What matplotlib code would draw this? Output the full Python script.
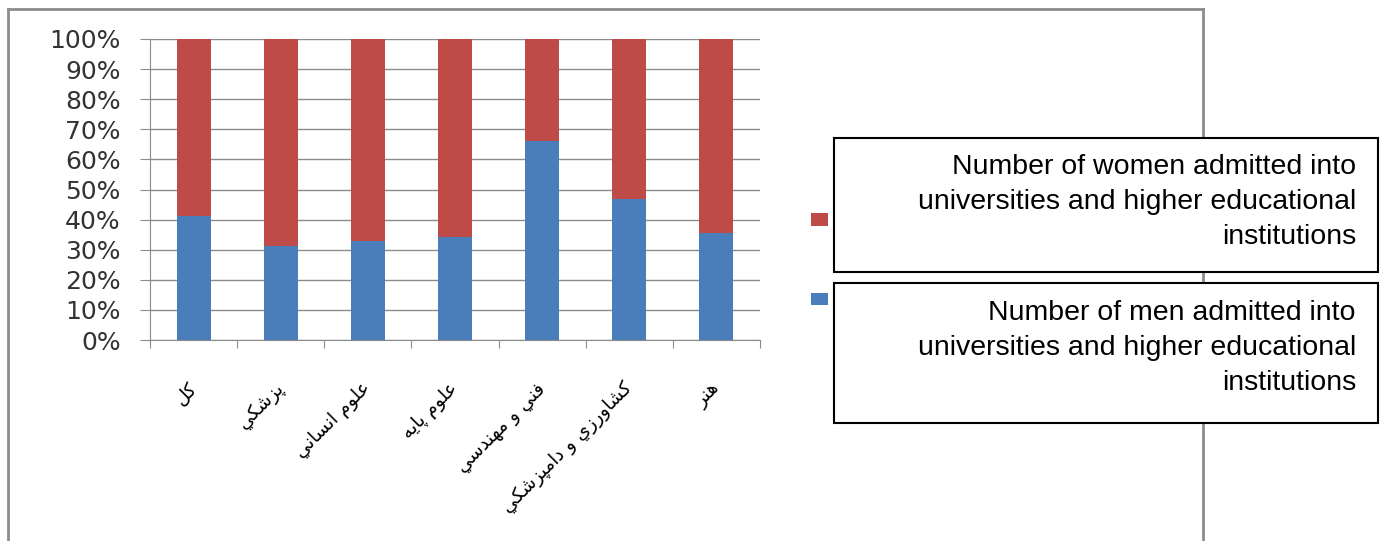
import matplotlib.pyplot as plt
from matplotlib.patches import Rectangle
from matplotlib.lines import Line2D

# category labels (Persian) and shares in percent
fields = ['کل', 'پزشکي', 'علوم انساني', 'علوم پايه', 'فني و مهندسي',
          'کشاورزي و دامپزشکي', 'هنر']
men = [41.2, 31.3, 33.0, 34.3, 66.1, 46.7, 35.6]
women = [58.8, 68.7, 67.0, 65.7, 33.9, 53.3, 64.4]
yticks = [0, 10, 20, 30, 40, 50, 60, 70, 80, 90, 100]

women_txt = 'Number of women admitted into\nuniversities and higher educational\ninstitutions'
men_txt = 'Number of men admitted into\nuniversities and higher educational\ninstitutions'

blue = '#4a7ebb'
red = '#be4b48'
grey = '#8c8c8c'

# matplotlib has no arabic shaping, so pick presentation forms by hand
FORMS = {
    'ا': ('\uFE8D', '\uFE8E'),
    'د': ('\uFEA9', '\uFEAA'),
    'ر': ('\uFEAD', '\uFEAE'),
    'ز': ('\uFEAF', '\uFEB0'),
    'و': ('\uFEED', '\uFEEE'),
    'س': ('\uFEB1', '\uFEB2', '\uFEB3', '\uFEB4'),
    'ش': ('\uFEB5', '\uFEB6', '\uFEB7', '\uFEB8'),
    'ع': ('\uFEC9', '\uFECA', '\uFECB', '\uFECC'),
    'ف': ('\uFED1', '\uFED2', '\uFED3', '\uFED4'),
    'ل': ('\uFEDD', '\uFEDE', '\uFEDF', '\uFEE0'),
    'م': ('\uFEE1', '\uFEE2', '\uFEE3', '\uFEE4'),
    'ن': ('\uFEE5', '\uFEE6', '\uFEE7', '\uFEE8'),
    'ه': ('\uFEE9', '\uFEEA', '\uFEEB', '\uFEEC'),
    'ي': ('\uFEF1', '\uFEF2', '\uFEF3', '\uFEF4'),
    'پ': ('\uFB56', '\uFB57', '\uFB58', '\uFB59'),
    'ک': ('\uFB8E', '\uFB8F', '\uFB90', '\uFB91'),
}


def shape(word):
    out = []
    for k, ch in enumerate(word):
        f = FORMS.get(ch)
        if f is None:
            out.append(ch)
            continue
        prev = word[k-1] if k > 0 else ''
        nxt = word[k+1] if k+1 < len(word) else ''
        jp = prev in FORMS and len(FORMS[prev]) == 4
        jn = len(f) == 4 and nxt in FORMS
        if jp and jn:
            out.append(f[3])
        elif jn:
            out.append(f[2])
        elif jp:
            out.append(f[1])
        else:
            out.append(f[0])
    return ''.join(out)[::-1]


W, H = 1383, 541


def fx(x):
    return x / W


def fy(y):
    return 1 - y / H


fig = plt.figure(figsize=(W/100, H/100), dpi=100)
ax = fig.add_axes([fx(150), fy(340), 610/W, 301/H])

x = list(range(len(fields)))
b1 = ax.bar(x, men, width=0.39, color=blue, zorder=2)
b2 = ax.bar(x, women, bottom=men, width=0.39, color=red, zorder=2)

ax.set_xlim(-0.5, len(fields) - 0.5)
ax.set_ylim(0, 100)
ax.set_yticks(yticks)
ax.set_yticklabels([f'{v}%' for v in yticks], fontsize=18, color='#333333')
ax.yaxis.grid(True, color=grey, lw=1)
ax.set_axisbelow(True)
ax.tick_params(axis='y', length=7.2, color=grey, pad=14)
ax.set_xticks([i - 0.5 for i in range(len(fields) + 1)])
ax.set_xticklabels([])
ax.tick_params(axis='x', length=6, color=grey)
for s in ['top', 'right']:
    ax.spines[s].set_visible(False)
for s in ['left', 'bottom']:
    ax.spines[s].set_color(grey)

# rotated persian category labels, top corner under each bar
for i, lab in enumerate(fields):
    ax.annotate(shape(lab), xy=(i, 0), xycoords='data',
                xytext=(-6 * 0.72, -39 * 0.72), textcoords='offset points',
                rotation=45, ha='right', va='top', rotation_mode='anchor',
                fontsize=13.5, family=['DejaVu Sans'], color='black')

leg = fig.legend([b2, b1], ['', ''], loc='upper left',
                 bbox_to_anchor=(fx(811), fy(211)), frameon=False,
                 handlelength=1.0, handleheight=0.8, labelspacing=3.7,
                 borderpad=0, borderaxespad=0, fontsize=12)

# outer chart frame
fig.add_artist(Line2D([fx(8), fx(1203)], [fy(9), fy(9)], color=grey, lw=2))
fig.add_artist(Line2D([fx(8), fx(8)], [fy(9), 0], color=grey, lw=2))
fig.add_artist(Line2D([fx(1203), fx(1203)], [fy(9), 0], color=grey, lw=2))

# english translation boxes pasted over the legend
for top, bot, txt, mid in [(138, 272, women_txt, 202), (283, 423, men_txt, 348)]:
    fig.add_artist(Rectangle((fx(834), fy(bot)), 544/W, (bot-top)/H,
                             facecolor='white', edgecolor='black', lw=1.5,
                             zorder=5))
    fig.text(fx(1356), fy(mid), txt, ha='right', va='center',
             multialignment='right', fontsize=20.5, family='Liberation Sans',
             linespacing=1.44, zorder=6)

fig.savefig('out.png', dpi=100)
